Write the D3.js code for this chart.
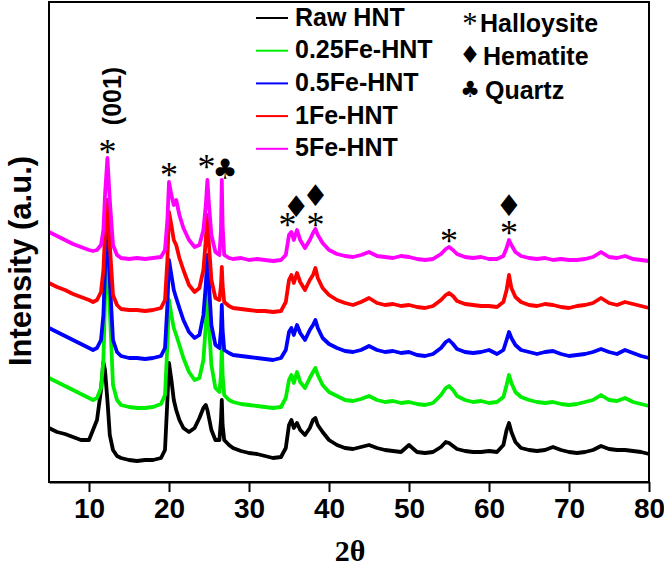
<!DOCTYPE html>
<html>
<head>
<meta charset="utf-8">
<script src="https://cdn.jsdelivr.net/npm/d3@7"></script>
<style>
  html, body { margin: 0; padding: 0; background: #fff; }
  svg { display: block; }
</style>
</head>
<body>
<svg id="chart" width="664" height="567"></svg>
<script>
// ---------------- DATA ----------------
const twoTheta = [
  5,6,7,8,9,10,
  10.5,11,11.5,11.8,12.0,12.3,12.6,13.0,13.5,
  14,15,16,17,18,19,
  19.5,19.8,20.0,20.3,20.6,20.9,21.3,21.8,22.5,23.2,23.8,24.3,24.6,24.8,25.0,25.3,25.8,26.3,26.5,26.6,26.7,26.9,27.5,
  28,29,30,31,32,33,34,
  34.6,35.0,35.3,35.6,36.0,36.4,37.0,37.6,38.0,38.3,38.6,39.2,
  40,41,42,43,44,45,46,47,48,49,50,51,52,53,54,
  54.6,55,55.5,
  56,57,58,59,60,61,
  61.8,62.2,62.5,62.8,63.3,
  64,65,66,67,68,69,70,71,72,73,74,75,76,77,78,79,80
];

// intensities (a.u., already stacked with offsets as plotted)
const rawHNT = [
  54,50,48,45,42,42,
  52,62,92,120,112,82,47,32,26,
  24,22,21,22,22,24,
  32,82,119,102,82,72,62,54,50,54,64,74,77,72,64,52,42,42,62,82,57,42,37,
  34,31,29,28,26,24,25,
  34,57,62,54,59,52,47,54,62,64,57,50,
  42,37,34,33,35,37,34,32,31,30,37,30,29,30,35,
  40,39,36,
  33,31,30,30,31,30,
  37,52,59,50,40,
  34,32,31,32,35,32,30,29,30,32,36,33,32,32,31,30,28
];
const fe025HNT = [
  104,100,96,92,88,84,
  82,84,94,122,182,232,172,97,82,
  77,75,74,74,75,78,
  87,137,182,167,154,147,137,124,110,102,104,122,157,192,157,117,94,90,107,137,107,87,82,
  80,78,77,76,75,74,75,
  84,102,107,99,110,100,94,104,110,114,107,97,
  90,86,82,81,83,86,82,80,81,79,80,78,77,79,87,
  94,96,92,
  86,82,80,81,79,80,
  85,97,107,99,90,
  85,82,80,79,80,78,77,78,80,82,87,82,81,84,80,78,76
];
const fe05HNT = [
  154,150,146,142,138,134,
  132,134,142,167,212,257,202,142,130,
  126,124,124,123,124,126,
  134,177,222,207,192,184,174,162,150,144,147,167,197,227,197,157,137,134,152,177,152,132,129,
  127,126,125,124,123,122,124,
  132,150,154,147,157,149,142,152,157,162,154,144,
  138,134,131,130,132,136,132,130,131,129,130,127,126,128,134,
  140,142,138,
  133,130,129,130,132,128,
  132,142,150,144,137,
  132,130,128,130,131,128,126,127,128,130,133,130,128,132,129,126,124
];
const fe1HNT = [
  199,195,192,188,185,182,
  180,182,190,212,247,282,237,187,177,
  173,172,172,171,172,174,
  182,222,270,257,242,237,224,212,197,190,194,212,242,267,237,202,184,182,197,215,197,180,176,
  174,173,172,171,171,170,171,
  180,202,207,199,209,200,192,202,207,214,204,194,
  187,182,179,177,180,184,179,177,178,176,177,175,174,176,182,
  187,189,186,
  181,178,177,176,176,175,
  180,192,207,194,185,
  180,177,176,178,177,175,174,176,177,179,184,179,177,180,178,176,174
];
const fe5HNT = [
  250,246,242,238,235,232,
  231,232,237,252,287,324,282,237,227,
  224,223,224,223,224,225,
  232,262,300,287,277,282,267,254,242,235,237,252,277,302,277,247,230,227,252,302,257,227,224,
  223,224,222,223,222,221,222,
  227,247,250,242,252,242,234,242,249,253,247,239,
  232,228,226,225,227,230,226,225,224,226,225,223,222,223,228,
  233,235,232,
  228,225,224,225,223,223,
  226,234,242,237,230,
  226,224,223,224,222,223,222,222,223,225,230,225,224,226,223,222,221
];

const seriesNames = ["Raw HNT", "0.25Fe-HNT", "0.5Fe-HNT", "1Fe-HNT", "5Fe-HNT"];
const seriesValues = [rawHNT, fe025HNT, fe05HNT, fe1HNT, fe5HNT];
const seriesColors = ["#000000", "#00ee00", "#0000ff", "#ff0000", "#ff00ff"];

const xTicks = [10, 20, 30, 40, 50, 60, 70, 80];

const phaseNames = ["Halloysite", "Hematite", "Quartz"];
const phaseSymbols = ["*", "\u2666", "\u2663"];

// peak annotations: [2theta, phase index, intensity level where symbol sits]
const peakMarks = [
  [12.3, 0, 335], [20.0, 0, 312], [24.7, 0, 320], [27.0, 2, 312],
  [34.8, 0, 262], [35.9, 1, 274], [38.3, 1, 285], [38.3, 0, 262],
  [55.0, 0, 246], [62.5, 1, 275], [62.5, 0, 254]
];
const peakLabel = "(001)";

// ---------------- CHART ----------------
const svg = d3.select("#chart");
const W = 664, H = 567;
const m = { left: 49, right: 15, top: 2, bottom: 85 };

const x = d3.scaleLinear().domain([5, 80]).range([m.left, W - m.right]);
const y = d3.scaleLinear().domain([0, 480]).range([H - m.bottom, m.top]);

// curves
const line = d3.line().x(d => x(d[0])).y(d => y(d[1])).curve(d3.curveLinear);
seriesValues.forEach((vals, i) => {
  const pts = twoTheta.map((t, k) => [t, vals[k]]);
  svg.append("path")
    .attr("d", line(pts))
    .attr("fill", "none")
    .attr("stroke", seriesColors[i])
    .attr("stroke-width", 3.8)
    .attr("stroke-linejoin", "round");
});

// frame
svg.append("rect")
  .attr("x", x(5)).attr("y", y(480))
  .attr("width", x(80) - x(5)).attr("height", y(0) - y(480))
  .attr("fill", "none").attr("stroke", "#000").attr("stroke-width", 2);

// x axis
const xAxis = d3.axisBottom(x).tickValues(xTicks).tickSize(10).tickPadding(6).tickSizeOuter(0);
const gx = svg.append("g").attr("transform", `translate(0,${y(0)})`).call(xAxis);
gx.select(".domain").attr("stroke", "#000").attr("stroke-width", 2);
gx.selectAll(".tick line").attr("stroke", "#000").attr("stroke-width", 2);
gx.selectAll(".tick text")
  .attr("fill", "#000")
  .style("font-family", "'Liberation Sans', Arial, sans-serif")
  .style("font-weight", "bold")
  .style("font-size", "28px");

// axis titles
svg.append("text")
  .attr("x", 350).attr("y", 561)
  .attr("text-anchor", "middle")
  .style("font-family", "'Liberation Serif', 'Times New Roman', serif")
  .style("font-weight", "bold")
  .style("font-size", "30px")
  .text("2\u03B8");

svg.append("text")
  .attr("transform", "translate(31,261) rotate(-90)")
  .attr("text-anchor", "middle")
  .style("font-family", "'Liberation Sans', Arial, sans-serif")
  .style("font-weight", "bold")
  .style("font-size", "31px")
  .text("Intensity (a.u.)");

// series legend
const lg = svg.append("g");
seriesNames.forEach((name, i) => {
  const yy = 18 + i * 32.7;
  lg.append("line")
    .attr("x1", 256).attr("x2", 288).attr("y1", yy).attr("y2", yy)
    .attr("stroke", seriesColors[i]).attr("stroke-width", 2);
  lg.append("text")
    .attr("x", 295).attr("y", yy + 7.5)
    .style("font-family", "'Liberation Sans', Arial, sans-serif")
    .style("font-weight", "bold")
    .style("font-size", "25px")
    .text(name);
});

// symbol helper
function symbol(g, idx, cx, cy, scale) {
  const s = scale || 1;
  if (idx === 0) {
    g.append("text").attr("x", cx).attr("y", cy + 17 * s)
      .attr("text-anchor", "middle")
      .style("font-family", "'Liberation Serif', serif")
      .style("font-size", (36 * s) + "px")
      .text(phaseSymbols[0]);
  } else {
    g.append("text").attr("x", cx).attr("y", cy + 9 * s)
      .attr("text-anchor", "middle")
      .style("font-family", "'DejaVu Sans', sans-serif")
      .style("font-size", (idx === 1 ? 30 * s : 28 * s) + "px")
      .text(phaseSymbols[idx]);
  }
}

// phase legend
const pl = svg.append("g");
const phaseY = [20, 56, 90];
const phaseTextX = [480, 483, 485];
phaseNames.forEach((name, i) => {
  symbol(pl, i, 470, phaseY[i], i === 0 ? 0.85 : 0.8);
  pl.append("text")
    .attr("x", phaseTextX[i]).attr("y", [32, 65, 99][i])
    .style("font-family", "'Liberation Sans', Arial, sans-serif")
    .style("font-weight", "bold")
    .style("font-size", "25px")
    .text(name);
});

// peak annotations
const an = svg.append("g");
peakMarks.forEach(([t, idx, lvl]) => {
  symbol(an, idx, x(t), y(lvl), 1);
});
svg.append("text")
  .attr("transform", `translate(${x(12.3) + 14},${96}) rotate(-90)`)
  .attr("text-anchor", "middle")
  .style("font-family", "'Liberation Sans', Arial, sans-serif")
  .style("font-weight", "bold")
  .style("font-size", "25px")
  .text(peakLabel);
</script>
</body>
</html>
